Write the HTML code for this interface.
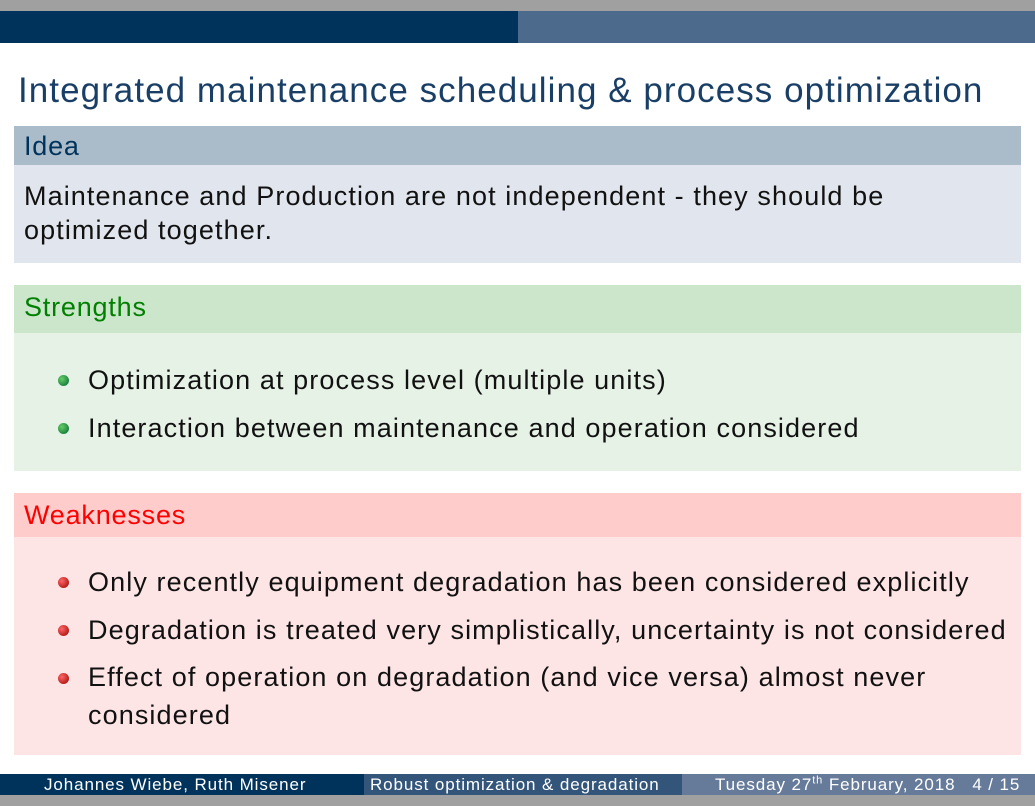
<!DOCTYPE html>
<html><head><meta charset="utf-8"><style>
body{margin:0;width:1035px;height:806px;position:relative;overflow:hidden;background:#fff;font-family:"Liberation Sans",sans-serif}
div{position:absolute;box-sizing:border-box}
.t{white-space:nowrap}
.bh{left:14px;width:1007px;font-size:27px;padding-left:10px;line-height:1;letter-spacing:0.8px}
.bb{left:14px;width:1007px;font-size:27px;color:#111;letter-spacing:1.1px}
.li{position:absolute;left:74px;white-space:nowrap}
.dot{position:absolute;left:-30px;top:10px;width:11px;height:11px;border-radius:50%}
.g .dot{background:radial-gradient(circle at 35% 35%,#6c6,#063)}
.r .dot{background:radial-gradient(circle at 35% 35%,#f66,#900)}
.f{top:774px;height:21px;font-size:17px;color:#fff;line-height:21px;white-space:nowrap;letter-spacing:0.9px}
</style></head><body>
<div style="left:0;top:0;width:1035px;height:11px;background:#a0a0a0"></div>
<div style="left:0;top:11px;width:518px;height:32px;background:#00335c"></div>
<div style="left:518px;top:11px;width:517px;height:32px;background:#4c6a8c"></div>
<div class="t" style="left:18px;top:71px;font-size:35px;color:#1a3f66;letter-spacing:1.05px">Integrated maintenance scheduling &amp; process optimization</div>

<div class="bh" style="top:126px;height:39px;background:#aabbc9;color:#00335c;padding-top:7px">Idea</div>
<div class="bb" style="top:165px;height:98px;background:#e1e5ed;padding:14px 10px;line-height:34px">Maintenance and Production are not independent - they should be<br>optimized together.</div>

<div class="bh" style="top:285px;height:48px;background:#cce6cc;color:#008000;padding-top:9px">Strengths</div>
<div class="bb g" style="top:333px;height:138px;background:#e6f2e6">
<div class="li" style="top:32px"><span class="dot"></span>Optimization at process level (multiple units)</div>
<div class="li" style="top:80px"><span class="dot"></span>Interaction between maintenance and operation considered</div>
</div>

<div class="bh" style="top:493px;height:44px;background:#ffcccc;color:#ff0000;padding-top:9px">Weaknesses</div>
<div class="bb r" style="top:537px;height:218px;background:#fee5e5">
<div class="li" style="top:30px"><span class="dot"></span>Only recently equipment degradation has been considered explicitly</div>
<div class="li" style="top:78px"><span class="dot"></span>Degradation is treated very simplistically, uncertainty is not considered</div>
<div class="li" style="top:121px;line-height:38px"><span class="dot" style="top:15px"></span>Effect of operation on degradation (and vice versa) almost never<br>considered</div>
</div>

<div class="f" style="left:0;width:364px;background:#00335c;padding-left:44px">Johannes Wiebe, Ruth Misener</div>
<div class="f" style="left:364px;width:318px;background:#33557a;padding-left:6px">Robust optimization &amp; degradation</div>
<div class="f" style="left:682px;width:353px;background:#667a99;padding-left:33px">Tuesday 27<sup style="font-size:11px;line-height:0">th</sup> February, 2018 &nbsp; 4 / 15</div>
<div style="left:0;top:795px;width:1035px;height:11px;background:#a0a0a0"></div>
</body></html>
